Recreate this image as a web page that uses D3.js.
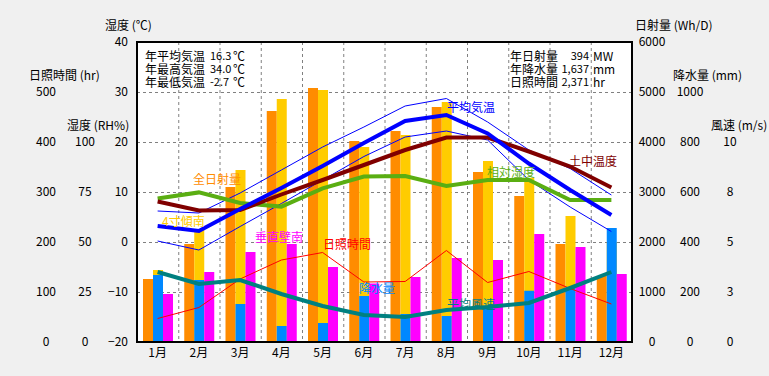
<!DOCTYPE html>
<html lang="ja">
<head>
<meta charset="UTF-8">
<title>気候グラフ</title>
<script src="https://d3js.org/d3.v7.min.js"></script>
<style>
    body { margin: 0; background: #f0f0f0; font-family: "Noto Sans CJK JP", sans-serif; }
    svg text { font-size: 12px; fill: #000; }
    .num { font-size: 11px; }
</style>
</head>
<body>
<svg width="769" height="376"></svg>
<script>
// 月
const months = ["1月","2月","3月","4月","5月","6月","7月","8月","9月","10月","11月","12月"];

// 気温 (℃)
const avgTemp  = [3.2, 2.2, 6.6, 10.8, 15.2, 19.8, 24.2, 25.4, 21.7, 15.7, 10.4, 5.4];
const maxTemp  = [6.2, 5.8, 9.8, 14.4, 19.0, 23.0, 27.2, 28.7, 24.0, 18.4, 14.7, 9.4];
const minTemp  = [0.2, -1.6, 3.1, 7.7, 12.4, 17.1, 21.0, 22.2, 20.4, 12.4, 7.0, 2.1];
const soilTemp = [8.1, 6.3, 6.4, 9.5, 12.4, 15.4, 18.4, 20.9, 20.9, 18.1, 15.1, 10.9];
// 相対湿度 (RH%)
const humidity = [71.8, 74.8, 69.5, 67.7, 76.8, 82.7, 83.0, 78.0, 81.0, 81.0, 71.0, 71.0];
// 日照時間 (hr)
const sunHours = [47, 69, 126, 164, 179, 120, 121, 183, 119, 141, 107, 76];
// 平均風速 (m/s)
const windSpeed = [3.5, 2.9, 3.1, 2.4, 1.8, 1.35, 1.25, 1.6, 1.75, 1.95, 2.7, 3.5];
// 日射量 (Wh/D)
const solarAll   = [1260, 1960, 3100, 4620, 5080, 4020, 4220, 4700, 3400, 2920, 1960, 1320];
const solarTilt  = [1440, 2240, 3440, 4860, 5040, 3900, 4140, 4800, 3620, 3280, 2520, 2000];
const solarSouth = [960, 1400, 1800, 1960, 1500, 1170, 1300, 1680, 1640, 2160, 1900, 1360];
// 降水量 (mm)
const rain = [268, 248, 152, 64, 76, 184, 112, 104, 139, 205, 217, 456];

// 目盛り
const tempTicks  = [-20, -10, 0, 10, 20, 30, 40];
const sunTicks   = [0, 100, 200, 300, 400, 500];
const rhTicks    = [0, 25, 50, 75, 100];
const solarTicks = [0, 1000, 2000, 3000, 4000, 5000, 6000];
const rainTicks  = [0, 200, 400, 600, 800, 1000];
const windTicks  = [0, 2.5, 5, 7.5, 10];
const windLabels = ["0", "3", "5", "8", "10"];

// 年間値
const summaryLeft = [["年平均気温", "16.3", "℃"], ["年最高気温", "34.0", "℃"], ["年最低気温", "-2.7", "℃"]];
const summaryRight = [["年日射量", "394", "MW"], ["年降水量", "1,637", "mm"], ["日照時間", "2,371", "hr"]];

const pLeft = 137, pRight = 632, pTop = 42, pBottom = 342;
const svg = d3.select("svg");

const x = d3.scaleBand().domain(months).range([pLeft, pRight]);
const sub = d3.scaleBand().domain([0, 1, 2]).range([6, 36]);
const cx = i => x(months[i]) + x.bandwidth() / 2;

const yTemp  = d3.scaleLinear().domain([-20, 40]).range([pBottom, pTop]);
const ySun   = d3.scaleLinear().domain([0, 600]).range([pBottom, pTop]);
const yRH    = d3.scaleLinear().domain([0, 150]).range([pBottom, pTop]);
const ySolar = d3.scaleLinear().domain([0, 6000]).range([pBottom, pTop]);
const yRain  = d3.scaleLinear().domain([0, 1200]).range([pBottom, pTop]);
const yWind  = d3.scaleLinear().domain([0, 15]).range([pBottom, pTop]);

// 描画領域
svg.append("rect").attr("x", pLeft).attr("y", pTop)
    .attr("width", pRight - pLeft).attr("height", pBottom - pTop)
    .attr("fill", "#fff");

// グリッド
const grid = svg.append("g").attr("stroke", "#808080").attr("stroke-dasharray", "3,3");
[-10, 0, 10, 20, 30].forEach(t => {
    grid.append("line").attr("x1", pLeft).attr("x2", pRight)
        .attr("y1", yTemp(t) + 0.5).attr("y2", yTemp(t) + 0.5);
});
months.slice(1).forEach(m => {
    grid.append("line").attr("x1", x(m) + 0.5).attr("x2", x(m) + 0.5)
        .attr("y1", pTop).attr("y2", pBottom);
});

// 棒
function bars(data, slot, scale, color) {
    svg.append("g").selectAll("rect").data(data).enter().append("rect")
        .attr("x", (d, i) => x(months[i]) + sub(slot))
        .attr("width", sub.bandwidth())
        .attr("y", d => scale(d))
        .attr("height", d => pBottom - scale(d))
        .attr("fill", color);
}
bars(solarAll, 0, ySolar, "#ff8c00");
bars(solarTilt, 1, ySolar, "#ffcc00");
bars(rain, 1, yRain, "#0088ff");
bars(solarSouth, 2, ySolar, "#ff00ff");

// 折れ線
function line(data, scale, color, width) {
    svg.append("path").datum(data)
        .attr("fill", "none").attr("stroke", color).attr("stroke-width", width)
        .attr("d", d3.line().x((d, i) => cx(i)).y(d => scale(d)));
}
line(sunHours, ySun, "#ff0000", 1);
line(maxTemp, yTemp, "#0000ff", 1);
line(minTemp, yTemp, "#0000ff", 1);
line(humidity, yRH, "#5aae12", 4);
line(soilTemp, yTemp, "#800000", 4);
line(windSpeed, yWind, "#008080", 4);
line(avgTemp, yTemp, "#0000ff", 4);

// 枠
svg.append("rect").attr("x", pLeft).attr("y", pTop)
    .attr("width", pRight - pLeft).attr("height", pBottom - pTop)
    .attr("fill", "none").attr("stroke", "#000").attr("stroke-width", 2);

// 軸
const plain = d3.format("d");
function axis(scale, ticks, xpos, labels) {
    const a = d3.axisLeft(scale).tickValues(ticks).tickSize(0).tickPadding(0)
        .tickFormat(labels ? (d, i) => labels[i] : plain);
    const g = svg.append("g").attr("transform", `translate(${xpos},0)`).call(a);
    g.select(".domain").remove();
    g.selectAll("text").attr("text-anchor", "middle").attr("x", 0);
    g.attr("font-family", null).attr("font-size", null);
}
const tAxis = svg.append("g").attr("transform", `translate(${pLeft},0)`)
    .call(d3.axisLeft(yTemp).tickValues(tempTicks).tickSize(0).tickPadding(9).tickFormat(plain));
tAxis.select(".domain").remove();
tAxis.attr("font-family", null).attr("font-size", null);

axis(ySun, sunTicks, 46);
axis(yRH, rhTicks, 85);
axis(ySolar, solarTicks, 652);
axis(yRain, rainTicks, 690);
axis(yWind, windTicks, 730, windLabels);

const xAxis = svg.append("g").attr("transform", `translate(0,${pBottom})`)
    .call(d3.axisBottom(x).tickSize(0).tickPadding(6));
xAxis.select(".domain").remove();
xAxis.attr("font-family", null).attr("font-size", null);

// 軸タイトル
const titles = [
    ["湿度 (℃)", 105, 24.5], ["日照時間 (hr)", 29, 74.5], ["湿度 (RH%)", 67, 124.5],
    ["日射量 (Wh/D)", 635, 24.5], ["降水量 (mm)", 673, 74.5], ["風速 (m/s)", 711, 124.5]
];
titles.forEach(t => {
    svg.append("text").attr("x", t[1]).attr("y", t[2])
        .attr("dominant-baseline", "central").text(t[0]);
});

// 系列名
const seriesLabels = [
    ["平均気温", 447, 106, "#0000ff"], ["土中温度", 569, 160, "#800000"],
    ["相対湿度", 487, 171.5, "#5aae12"], ["全日射量", 193, 178.5, "#ff8c00"],
    ["4寸傾南", 162, 220.5, "#ffcc00"], ["垂直壁南", 255, 236.5, "#ff00ff"],
    ["日照時間", 323, 243.5, "#ff0000"], ["降水量", 359, 287.5, "#0088ff"],
    ["平均風速", 447, 303.5, "#008080"]
];
seriesLabels.forEach(s => {
    svg.append("text").attr("x", s[1]).attr("y", s[2])
        .attr("dominant-baseline", "central").style("fill", s[3]).text(s[0]);
});

// 年間値 (一つのtextにまとめる)
const tl = svg.append("text").attr("dominant-baseline", "central");
summaryLeft.forEach((r, i) => {
    const y = 54.5 + i * 13;
    tl.append("tspan").attr("x", 145).attr("y", y).text(r[0]);
    tl.append("tspan").attr("class", "num").attr("x", 210).attr("y", y).text(r[1]);
    tl.append("tspan").attr("x", 233).attr("y", y).text(r[2]);
});
const tr = svg.append("text").attr("dominant-baseline", "central");
summaryRight.forEach((r, i) => {
    const y = 55 + i * 13;
    tr.append("tspan").attr("x", 510).attr("y", y).text(r[0]);
    tr.append("tspan").attr("class", "num").attr("x", 589).attr("y", y)
        .attr("text-anchor", "end").text(r[1]);
    tr.append("tspan").attr("x", 593).attr("y", y).text(r[2]);
});
</script>
</body>
</html>
